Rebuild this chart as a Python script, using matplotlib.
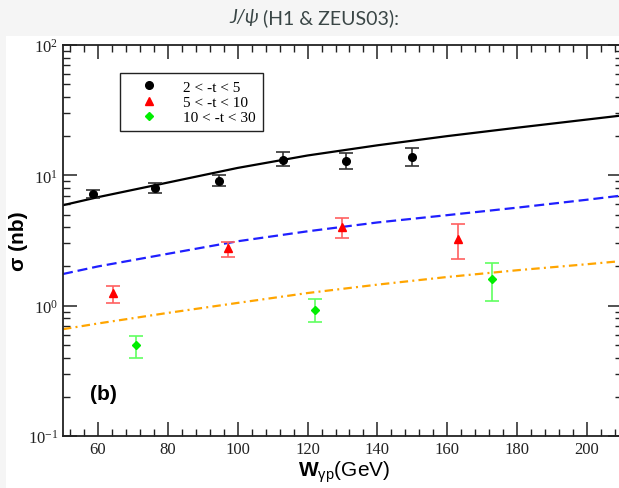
import matplotlib
matplotlib.use("Agg")
import matplotlib.pyplot as plt
from matplotlib.patches import Rectangle
from matplotlib.ticker import MultipleLocator, LogLocator, NullFormatter

# measured cross sections (nb) vs W_gamma-p (GeV)
w_a = [58.6, 76.4, 94.7, 113.0, 131.0, 150.0]
s_a = [7.2, 8.0, 9.1, 13.2, 12.8, 13.9]
lo_a = [0.54, 0.69, 0.85, 1.4, 1.7, 2.2]
hi_a = [0.54, 0.73, 0.96, 1.9, 2.0, 2.2]

w_b = [64.3, 97.3, 129.8, 163.0]
s_b = [1.24, 2.75, 3.99, 3.24]
lo_b = [0.19, 0.38, 0.70, 0.96]
hi_b = [0.17, 0.31, 0.69, 0.97]

w_c = [70.8, 122.0, 172.9]
s_c = [0.50, 0.925, 1.61]
lo_c = [0.10, 0.18, 0.52]
hi_c = [0.087, 0.20, 0.50]

# model curves
w_fit = [50, 60, 80, 100, 120, 140, 160, 180, 200, 210]
fit_a = [5.9, 6.8, 8.8, 11.4, 14.2, 17.0, 20.0, 23.2, 26.8, 28.8]
fit_b = [1.75, 2.0, 2.5, 3.12, 3.72, 4.35, 4.95, 5.65, 6.5, 7.0]
fit_c = [0.66, 0.73, 0.88, 1.05, 1.25, 1.45, 1.66, 1.87, 2.08, 2.2]

labels = ["2 < -t < 5", "5 < -t < 10", "10 < -t < 30"]

plt.rcParams["font.family"] = ["Liberation Serif", "DejaVu Serif"]
plt.rcParams["mathtext.fontset"] = "custom"
plt.rcParams["mathtext.rm"] = "Liberation Serif"
plt.rcParams["mathtext.bf"] = "Liberation Sans:bold"
plt.rcParams["mathtext.sf"] = "Liberation Sans"

W, H = 619, 489
fig = plt.figure(figsize=(W / 100, H / 100), dpi=100, facecolor="#f5f5f5")
fig.patches.append(Rectangle((6 / W, 0), 1 - 6 / W, 1 - 37 / H, transform=fig.transFigure,
                             facecolor="white", edgecolor="none", zorder=-5))

# slide title
title_font = dict(fontsize=14, family=["Lato", "DejaVu Sans"], color="#3a4646", va="center")
fig.text(259 / W, 1 - 18 / H, "J/ψ", ha="right", style="italic", **title_font)
fig.text(263 / W, 1 - 18 / H, "(H1 & ZEUS03):", ha="left", **title_font)

ax = fig.add_axes([63 / W, 52 / H, 559 / W, 391 / H])
ax.set_yscale("log")
ax.set_xlim(50, 210)
ax.set_ylim(0.1, 100)

ax.plot(w_fit, fit_a, color="black", lw=1.6)
ax.plot(w_fit, fit_b, color="#1f1fff", lw=1.6, dashes=(4.5, 2.2))
ax.plot(w_fit, fit_c, color="#ffa500", lw=1.6, dashes=(3.8, 1.9, 0.9, 1.9))

eb_a = ax.errorbar(w_a, s_a, yerr=[lo_a, hi_a], fmt="o", color="black", ecolor="#333333",
                   ms=5.5, elinewidth=1.2, capsize=5, capthick=1.2)
eb_b = ax.errorbar(w_b, s_b, yerr=[lo_b, hi_b], fmt="^", color="red", ecolor="#ff6060",
                   ms=5.5, elinewidth=1.2, capsize=5, capthick=1.2)
eb_c = ax.errorbar(w_c, s_c, yerr=[lo_c, hi_c], fmt="D", color="#00ee00", ecolor="#60ff60",
                   ms=4.2, elinewidth=1.2, capsize=5, capthick=1.2)

ax.xaxis.set_major_locator(MultipleLocator(20))
ax.xaxis.set_minor_locator(MultipleLocator(4))
ax.yaxis.set_major_locator(LogLocator(base=10))
ax.yaxis.set_minor_locator(LogLocator(base=10, subs=range(2, 10)))
ax.yaxis.set_minor_formatter(NullFormatter())
ax.tick_params(which="both", direction="in", top=True, right=True, labelsize=12, colors="#222222")
ax.tick_params(which="major", length=10, width=1.1, pad=3.5)
ax.tick_params(which="minor", length=5, width=1.0)
for sp in ax.spines.values():
    sp.set_linewidth(1.3)
    sp.set_color("#222222")

ax.set_xlabel(r"$\mathbf{W}_{\mathsf{\gamma p}}\mathsf{(GeV)}$", fontsize=15)
ax.xaxis.set_label_coords(0.503, -0.056)
ax.set_ylabel("σ (nb)", fontsize=15, family=["Liberation Sans"], fontweight="bold")
ax.yaxis.set_label_coords(-0.062, 0.5)

ax.text(0.073, 0.108, "(b)", transform=ax.transAxes, fontsize=15,
        family=["Liberation Sans"], fontweight="bold", ha="center", va="center")

leg = ax.legend([eb_a[0], eb_b[0], eb_c[0]], labels,
                loc="upper left", bbox_to_anchor=(0.102, 0.928), borderaxespad=0,
                fontsize=11, frameon=True, fancybox=False, framealpha=1,
                handlelength=2.9, handletextpad=0.8, borderpad=0.45, labelspacing=0.1,
                numpoints=1)
leg.get_frame().set_edgecolor("#222222")
leg.get_frame().set_linewidth(1.0)

fig.savefig("out.png", dpi=100, facecolor=fig.get_facecolor())
